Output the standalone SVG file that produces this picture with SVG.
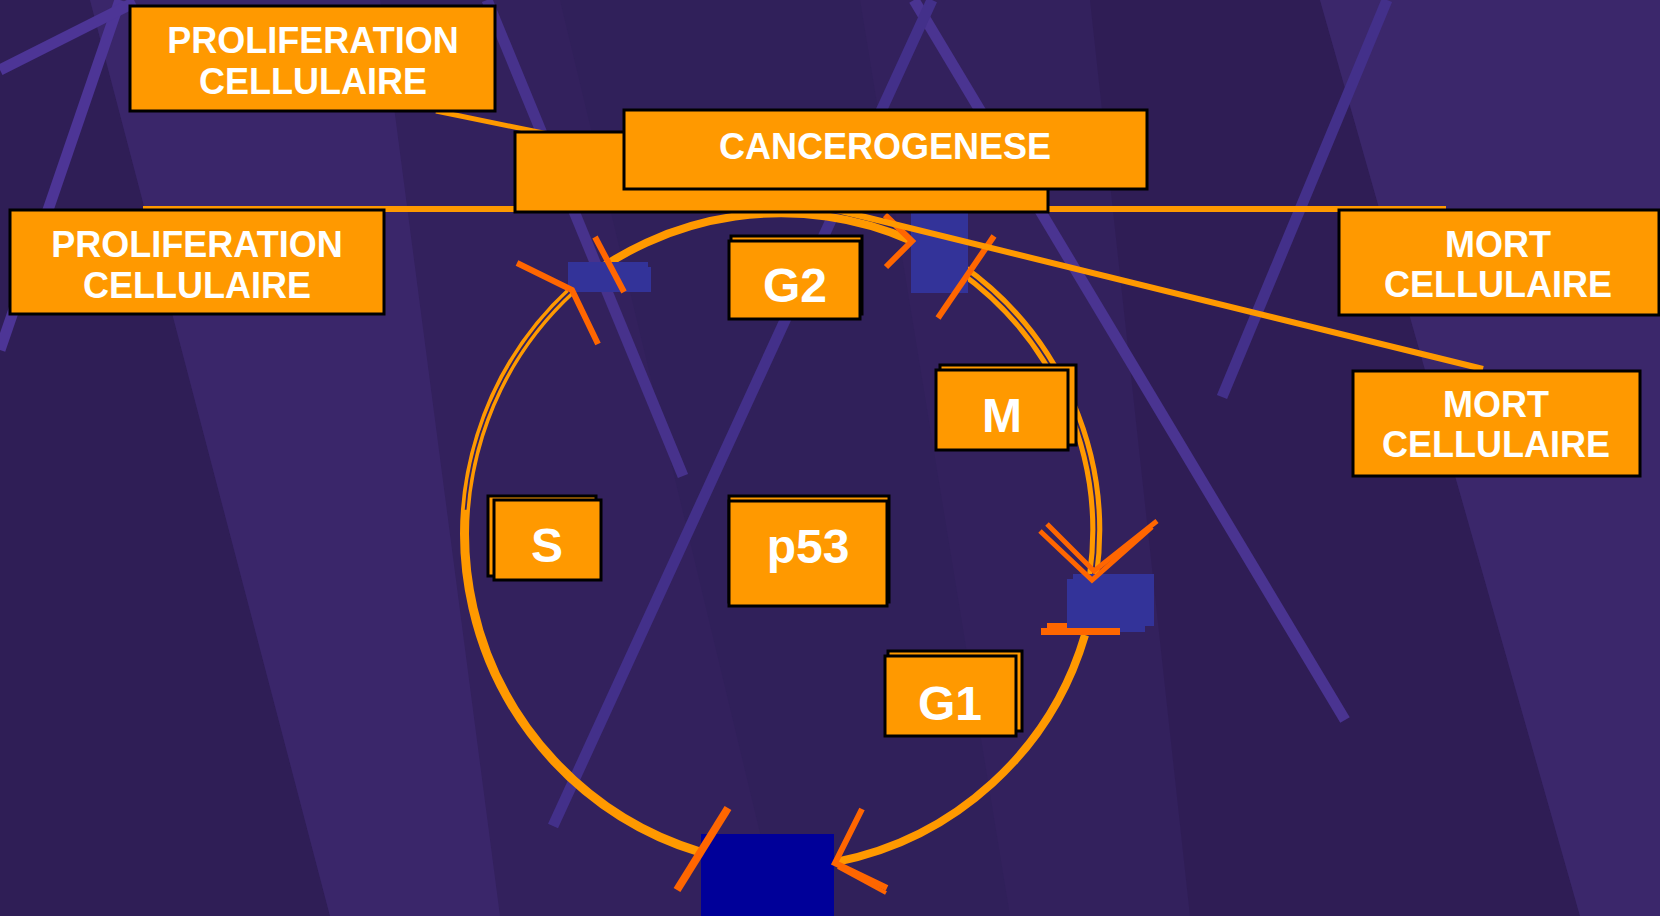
<svg xmlns="http://www.w3.org/2000/svg" width="1660" height="916" viewBox="0 0 1660 916">
<defs>
<style>
.box{fill:#ff9900;stroke:#000;stroke-width:3}
.t{fill:#fff;font-family:"Liberation Sans",Arial,sans-serif;font-weight:bold;font-size:36px;text-anchor:middle}
.tb{fill:#fff;font-family:"Liberation Sans",Arial,sans-serif;font-weight:bold;font-size:48px;text-anchor:middle}
.stripe{stroke:#47328c;stroke-width:11;fill:none}
.conn{stroke:#ff9900;fill:none}
.arc{stroke:#ff9900;fill:none;stroke-width:8}
.gap{stroke:#35225f;fill:none;stroke-width:1.8}
.red{stroke:#ff6600;fill:none;stroke-width:6;stroke-linejoin:miter}
.blue{fill:#333399}
</style>
</defs>
<g id="background">
<rect width="1660" height="916" fill="#33215d"/>
<polygon points="0,0 90,0 330,916 0,916" fill="#2f1e56"/>
<polygon points="90,0 380,0 500,916 330,916" fill="#3a266a"/>
<polygon points="560,0 860,0 1010,916 780,916" fill="#30205a"/>
<polygon points="1090,0 1320,0 1580,916 1190,916" fill="#2f1d55"/>
<polygon points="1320,0 1660,0 1660,916 1580,916" fill="#3b276b"/>
<line class="stripe" x1="120" y1="0" x2="0" y2="350" style="stroke:#4d3596"/>
<line class="stripe" x1="0" y1="70" x2="135" y2="2" style="stroke:#4d3596"/>
<line class="stripe" x1="487" y1="0" x2="683" y2="476"/>
<line class="stripe" x1="914" y1="0" x2="1345" y2="720" style="stroke:#4a3491"/>
<line class="stripe" x1="932" y1="0" x2="553" y2="826" style="stroke:#43308a"/>
<line class="stripe" x1="1387" y1="0" x2="1222" y2="397" style="stroke:#43308a"/>
</g>
<g id="cycle-arcs">
<path class="arc" d="M700,852 A332,332 0 0 1 572,290" style="stroke-width:9"/>
<path class="gap" d="M572,290 A332,332 0 0 0 700,852" style="stroke-dasharray:250 1000"/>
<path class="arc" d="M572,290 A323,323 0 0 1 912,241"/>
<path class="arc" d="M960,268 A322,322 0 0 1 1093,576" style="stroke-width:12"/>
<path class="gap" d="M960,268 A322,322 0 0 1 1093,576"/>
<path class="arc" d="M1085,635 A325,325 0 0 1 836,862"/>
</g>
<g id="checkpoints">
<rect class="blue" x="568" y="262" width="80" height="30"/>
<rect class="blue" x="572" y="267" width="79" height="25"/>
<rect class="blue" x="911" y="213" width="57" height="80"/>
<rect class="blue" x="1073" y="574" width="81" height="52"/>
<rect class="blue" x="1067" y="579" width="78" height="53"/>
<rect x="701" y="834" width="133" height="82" fill="#000099"/>
</g>
<g id="connectors">
<polyline class="red" points="517,263 572,290 598,344"/>
<line class="red" x1="595" y1="237" x2="624" y2="292"/>
<polyline class="red" points="885,215 912,241 886,267"/>
<line class="red" x1="994" y1="236" x2="938" y2="318"/>
<polyline class="red" points="1040,531 1092,580 1152,527" style="stroke-width:5"/>
<polyline class="red" points="1047,524 1094,571 1157,521" style="stroke-width:5"/>
<rect x="1041" y="628" width="79" height="7" fill="#ff6600"/>
<rect x="1047" y="623" width="20" height="6" fill="#ff6600"/>
<polyline class="red" points="862,809 835,863 887,888"/>
<line class="red" x1="838" y1="867" x2="886" y2="893" style="stroke-width:4"/>
<line class="red" x1="728" y1="808" x2="677" y2="890" style="stroke-width:8"/>
<line class="conn" x1="143" y1="209" x2="1446" y2="209" stroke-width="6"/>
<line class="conn" x1="436" y1="111" x2="548" y2="134" stroke-width="5"/>
<line class="conn" x1="800" y1="201" x2="1483" y2="369" stroke-width="6"/>
</g>
<g id="node-proliferation-top">
<rect class="box" x="130" y="6" width="365" height="105"/>
<text class="t" x="313" y="53">PROLIFERATION</text>
<text class="t" x="313" y="94">CELLULAIRE</text>
</g>
<g id="node-cancerogenese">
<rect class="box" x="515" y="132" width="533" height="80"/>
<rect class="box" x="624" y="110" width="523" height="79"/>
<text class="t" x="885" y="159">CANCEROGENESE</text>
</g>
<g id="node-proliferation-left">
<rect class="box" x="10" y="210" width="374" height="104"/>
<text class="t" x="197" y="257">PROLIFERATION</text>
<text class="t" x="197" y="298">CELLULAIRE</text>
</g>
<g id="node-mort-top">
<rect class="box" x="1339" y="210" width="320" height="105"/>
<text class="t" x="1498" y="257">MORT</text>
<text class="t" x="1498" y="297">CELLULAIRE</text>
</g>
<g id="node-mort-lower">
<rect class="box" x="1353" y="371" width="287" height="105"/>
<text class="t" x="1496" y="417">MORT</text>
<text class="t" x="1496" y="457">CELLULAIRE</text>
</g>
<g id="node-g2">
<rect class="box" x="731" y="236" width="131" height="78"/>
<rect class="box" x="729" y="241" width="131" height="78"/>
<text class="tb" x="795" y="302">G2</text>
</g>
<g id="node-m">
<rect class="box" x="940" y="365" width="136" height="80"/>
<rect class="box" x="936" y="370" width="132" height="80"/>
<text class="tb" x="1002" y="432">M</text>
</g>
<g id="node-s">
<rect class="box" x="488" y="496" width="108" height="80"/>
<rect class="box" x="494" y="500" width="107" height="80"/>
<text class="tb" x="547" y="562">S</text>
</g>
<g id="node-p53">
<rect class="box" x="729" y="496" width="160" height="106"/>
<rect class="box" x="729" y="501" width="158" height="105"/>
<text class="tb" x="808" y="563">p53</text>
</g>
<g id="node-g1">
<rect class="box" x="888" y="651" width="134" height="80"/>
<rect class="box" x="885" y="656" width="131" height="80"/>
<text class="tb" x="950" y="720">G1</text>
</g>
</svg>
